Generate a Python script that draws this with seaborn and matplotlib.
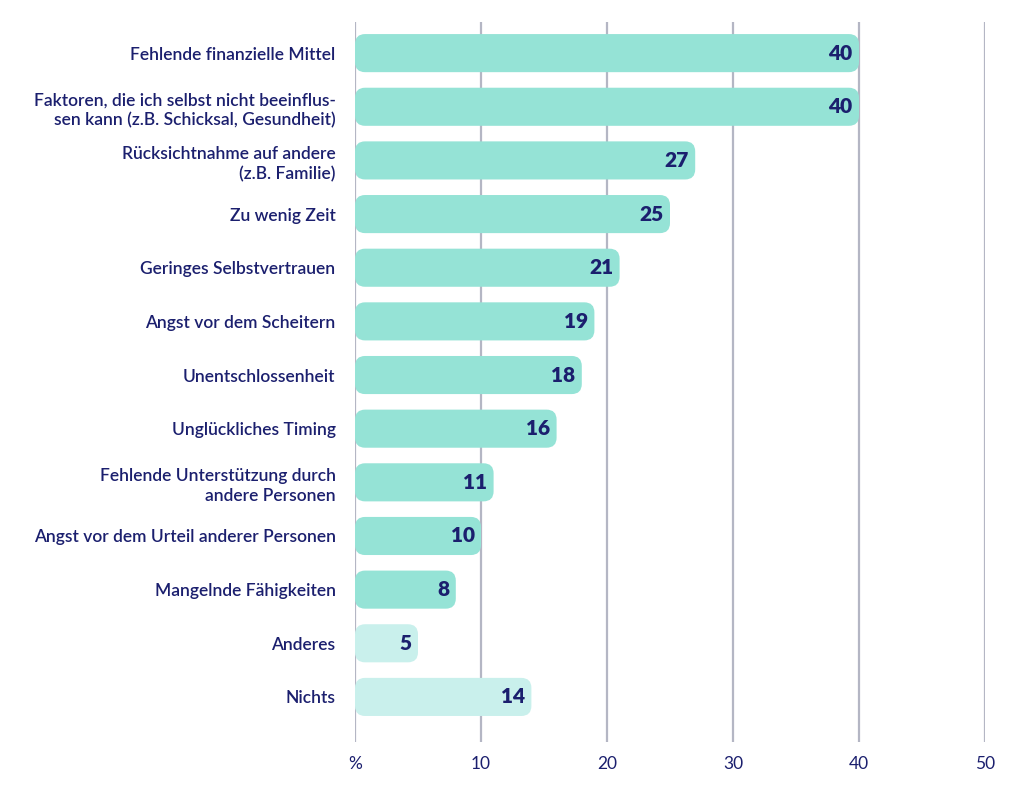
import seaborn as sns
import matplotlib
import matplotlib.pyplot as plt
import pandas as pd
from matplotlib.patches import FancyBboxPatch

matplotlib.use('Agg')

# data
categories = [
    "Fehlende finanzielle Mittel",
    "Faktoren, die ich selbst nicht beeinflus-\nsen kann (z.B. Schicksal, Gesundheit)",
    "Rücksichtnahme auf andere\n(z.B. Familie)",
    "Zu wenig Zeit",
    "Geringes Selbstvertrauen",
    "Angst vor dem Scheitern",
    "Unentschlossenheit",
    "Unglückliches Timing",
    "Fehlende Unterstützung durch\nandere Personen",
    "Angst vor dem Urteil anderer Personen",
    "Mangelnde Fähigkeiten",
    "Anderes",
    "Nichts",
]
values = [40, 40, 27, 25, 21, 19, 18, 16, 11, 10, 8, 5, 14]
groups = ["main"] * 11 + ["other"] * 2
x_ticks = [0, 10, 20, 30, 40, 50]
x_tick_labels = ["%", "10", "20", "30", "40", "50"]

NAVY = "#1b1f6e"
GRID = "#b4b6c4"
palette = {"main": "#95e3d6", "other": "#c9f0ec"}

df = pd.DataFrame({"cat": categories, "val": values, "grp": groups})

sns.set_style("white")
plt.rcParams['font.family'] = ['Lato', 'DejaVu Sans']

fig = plt.figure(figsize=(10.24, 8), dpi=100)
ax = fig.add_axes([355 / 1024, 58 / 800, 630 / 1024, 720 / 800])

sns.barplot(data=df, y="cat", x="val", hue="grp", palette=palette,
            orient="h", width=0.71, dodge=False, legend=False,
            saturation=1, ax=ax, zorder=3)

ax.set_xlim(0, 50)
ax.set_ylim(12.84, -0.58)

# swap plain bars for rounded ones
mut_aspect = (1 / 53.7) / (1 / 12.6)
for p in list(ax.patches):
    x0, y0 = p.get_x(), p.get_y()
    w, h = p.get_width(), p.get_height()
    if w <= 0:
        continue
    fc = p.get_facecolor()
    p.remove()
    ax.add_patch(FancyBboxPatch((x0, y0), w, h,
                                boxstyle="round,pad=0,rounding_size=0.8",
                                mutation_aspect=mut_aspect,
                                facecolor=fc, edgecolor="none", zorder=3))

for i, v in enumerate(values):
    ax.text(v - 0.5, i, str(v), ha="right", va="center", color=NAVY,
            fontsize=15, fontweight="heavy", zorder=4)

for xt in x_ticks:
    ax.axvline(xt, color=GRID, linewidth=1.6, zorder=1)

ax.set_xticks(x_ticks)
ax.set_xticklabels(x_tick_labels, color=NAVY, fontsize=12.5)
ax.tick_params(axis="x", length=0, pad=10)
ax.tick_params(axis="y", length=0, pad=14)
for lbl in ax.get_yticklabels():
    lbl.set_color(NAVY)
    lbl.set_fontsize(12.5)
    lbl.set_fontweight("semibold")
    lbl.set_multialignment("right")
    lbl.set_linespacing(1.3)

ax.set_xlabel("")
ax.set_ylabel("")
for s in ax.spines.values():
    s.set_visible(False)

fig.savefig("out.png", dpi=100)
